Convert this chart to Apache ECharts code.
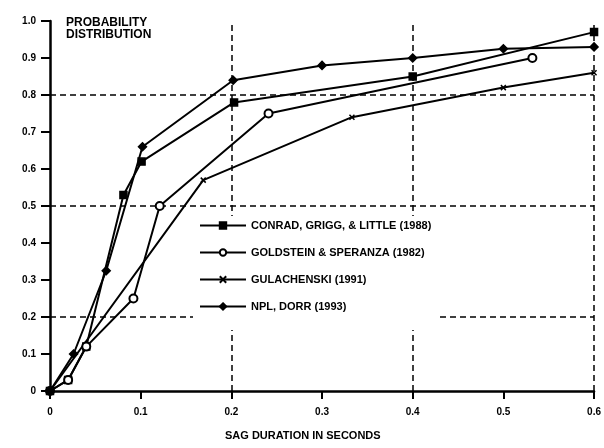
<!DOCTYPE html>
<html lang="en">
<head>
    <meta charset="UTF-8">
    <title>Sag duration probability distribution</title>
    <script type="text/javascript" src="https://cdn.jsdelivr.net/npm/echarts@6/dist/echarts.min.js"></script>
    <style>
        html, body { margin: 0; padding: 0; background: #fff; }
        #chart { width: 604px; height: 448px; }
    </style>
</head>
<body>
<div id="chart"></div>
<script type="text/javascript">
    // data: [duration (s), probability]
    var seriesNames = ['CONRAD, GRIGG, & LITTLE (1988)', 'GOLDSTEIN & SPERANZA (1982)', 'GULACHENSKI (1991)', 'NPL, DORR (1993)'];
    var conrad = [[0, 0], [0.02, 0.03], [0.04, 0.12], [0.081, 0.53], [0.101, 0.62], [0.203, 0.78], [0.4, 0.85], [0.6, 0.97]];
    var goldstein = [[0, 0], [0.02, 0.03], [0.04, 0.12], [0.092, 0.25], [0.121, 0.50], [0.241, 0.75], [0.532, 0.90]];
    var gulachenski = [[0, 0], [0.169, 0.57], [0.333, 0.74], [0.5, 0.82], [0.6, 0.86]];
    var npl = [[0, 0], [0.026, 0.10], [0.062, 0.325], [0.102, 0.66], [0.202, 0.84], [0.3, 0.88], [0.4, 0.90], [0.5, 0.925], [0.6, 0.93]];
    var gridLinesX = [0.2, 0.4, 0.6];
    var gridLinesY = [0.2, 0.5, 0.8];

    var font = '"Liberation Sans", Arial, sans-serif';
    var crossPath = 'path://M0,0L10,10M10,0L0,10';

    var chart = echarts.init(document.getElementById('chart'));

    var marks = [];
    gridLinesY.forEach(function (v) { marks.push({yAxis: v}); });
    gridLinesX.forEach(function (v) { marks.push({xAxis: v}); });

    function lineSeries(name, data, symbol, size, extra) {
        var s = {
            name: name,
            type: 'line',
            data: data,
            symbol: symbol,
            symbolSize: size,
            showSymbol: true,
            lineStyle: {color: '#000', width: 2},
            itemStyle: {color: '#000', borderColor: '#000', borderWidth: 1.5},
            z: 3
        };
        for (var k in extra) s[k] = extra[k];
        return s;
    }

    var option = {
        backgroundColor: '#fff',
        animation: false,
        textStyle: {fontFamily: font},
        grid: {left: 50, right: 9, top: 21, bottom: 57, containLabel: false},
        xAxis: {
            type: 'value', min: 0, max: 0.6, interval: 0.1,
            axisLine: {show: true, lineStyle: {color: '#000', width: 2.5}},
            axisTick: {show: true, length: 8, lineStyle: {color: '#000', width: 2}},
            axisLabel: {
                color: '#000', fontWeight: 'bold', fontSize: 10, margin: 16, fontFamily: font,
                formatter: function (v) { return v === 0 ? '0' : v.toFixed(1); }
            },
            splitLine: {show: false}
        },
        yAxis: {
            type: 'value', min: 0, max: 1, interval: 0.1,
            axisLine: {show: true, lineStyle: {color: '#000', width: 2.5}},
            axisTick: {show: true, length: 9, lineStyle: {color: '#000', width: 2}},
            axisLabel: {
                color: '#000', fontWeight: 'bold', fontSize: 10, margin: 14, fontFamily: font,
                formatter: function (v) { return v === 0 ? '0' : v.toFixed(1); }
            },
            splitLine: {show: false}
        },
        legend: {
            left: 193, top: 216,
            orient: 'vertical',
            backgroundColor: '#fff',
            padding: [4, 6, 18, 6],
            itemWidth: 46, itemHeight: 8, itemGap: 16,
            textStyle: {color: '#000', fontWeight: 'bold', fontSize: 11, fontFamily: font},
            data: seriesNames
        },
        graphic: [
            {
                type: 'text', left: 66, top: 17,
                style: {
                    text: 'PROBABILITY\nDISTRIBUTION', fill: '#000',
                    font: 'bold 12px ' + font, lineHeight: 12
                }
            },
            {
                type: 'text', left: 225, top: 430,
                style: {text: 'SAG DURATION IN SECONDS', fill: '#000', font: 'bold 11px ' + font}
            }
        ],
        series: [
            lineSeries(seriesNames[0], conrad, 'rect', 7, {
                markLine: {
                    silent: true, symbol: 'none', z: 1,
                    label: {show: false},
                    lineStyle: {color: '#000', type: [6, 4], width: 1.5},
                    data: marks
                }
            }),
            lineSeries(seriesNames[1], goldstein, 'emptyCircle', 8, {}),
            lineSeries(seriesNames[2], gulachenski, crossPath, 5, {}),
            lineSeries(seriesNames[3], npl, 'diamond', 8, {})
        ]
    };
    chart.setOption(option);
</script>
</body>
</html>
